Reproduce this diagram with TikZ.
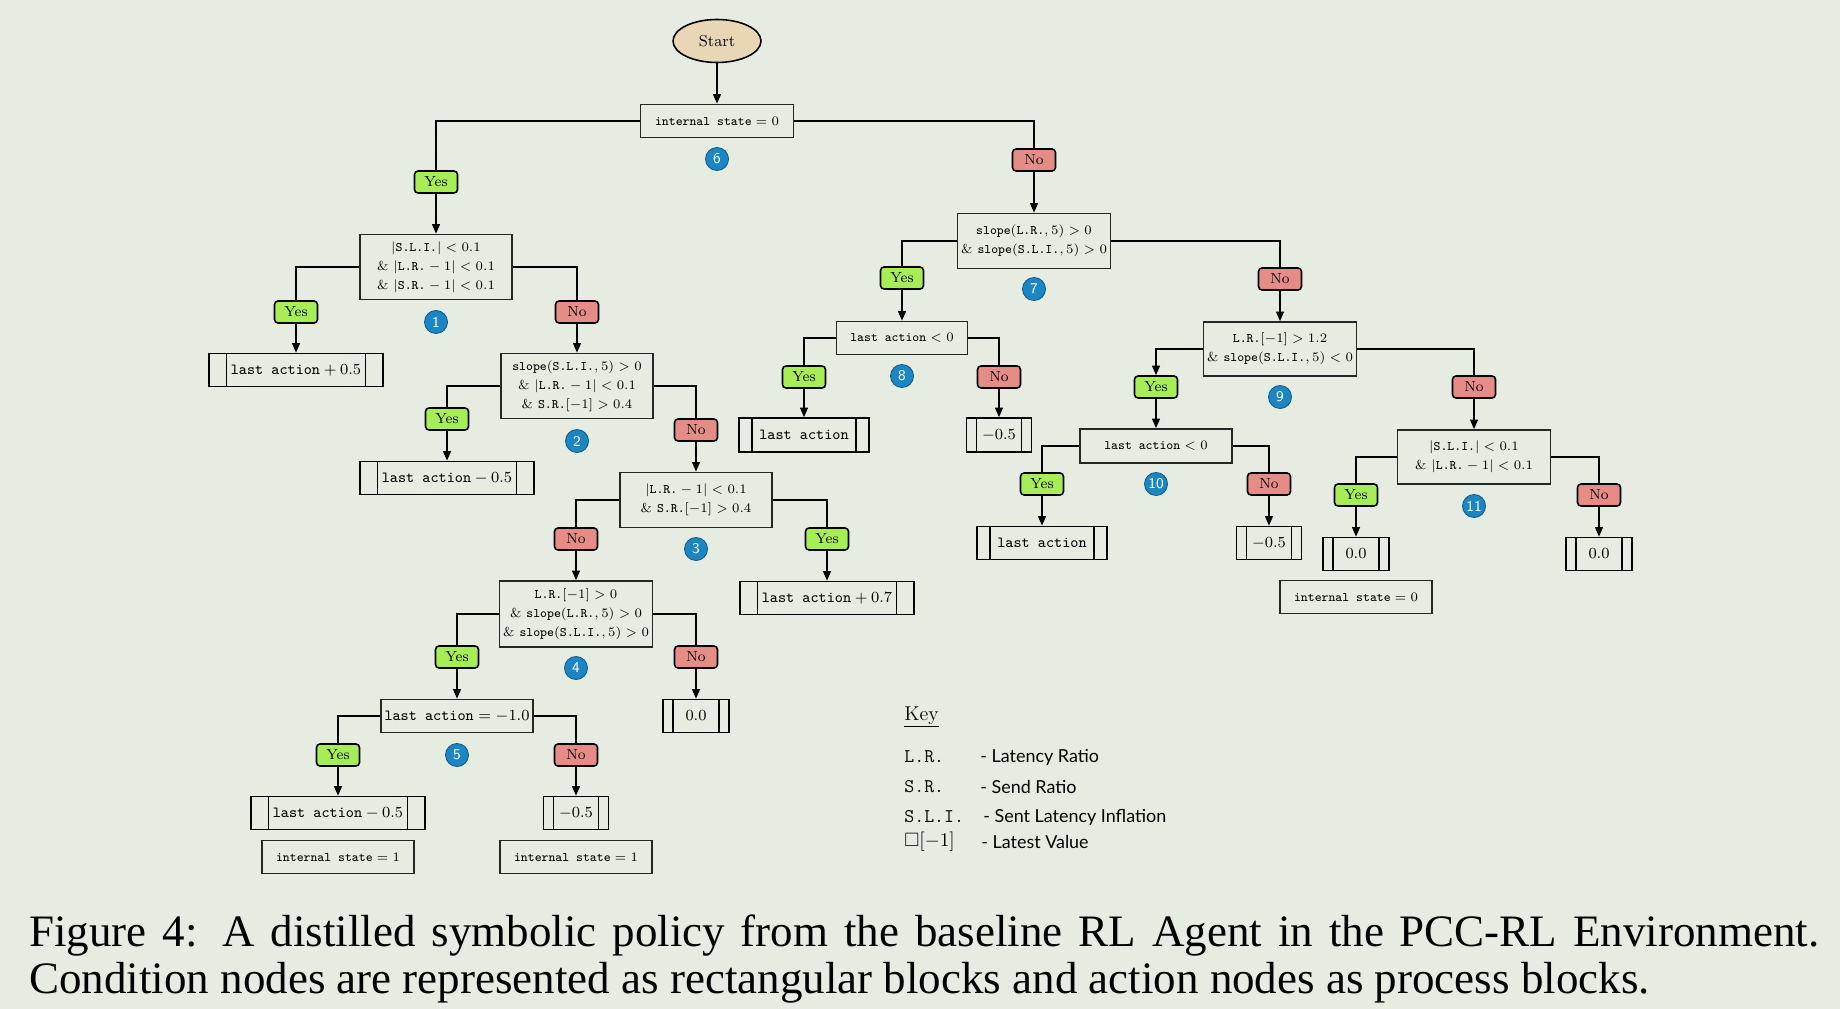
\documentclass[tikz,border=0pt]{standalone}
\usepackage{fix-cm}
\usepackage{amsmath,amssymb}
\usepackage{fontspec}
\usepackage{xcolor}
\newfontfamily\keyfont{Lato}
\newfontfamily\capfont{Liberation Serif}
\usetikzlibrary{
    arrows.meta,
    shapes.geometric
}

\definecolor{bgpaper}{RGB}{230,236,226}
\definecolor{startfill}{RGB}{232,214,181}
\definecolor{yesgreen}{RGB}{166,237,88}
\definecolor{nored}{RGB}{230,140,134}
\definecolor{ballblue}{RGB}{28,134,196}

\newcommand{\condfont}{\fontsize{7.4}{10.8}\selectfont}
\newcommand{\actfont}{\fontsize{8.8}{10.5}\selectfont}
\newcommand{\lblfont}{\fontsize{8.3}{9}\selectfont}
\newcommand{\vLR}{\texttt{L.R.}}
\newcommand{\vSR}{\texttt{S.R.}}
\newcommand{\vSLI}{\texttt{S.L.I.}}
\newcommand{\vSlope}{\texttt{slope}}
\newcommand{\vLast}{\texttt{last action}}
\newcommand{\vState}{\texttt{internal state}}

\begin{document}
\begin{tikzpicture}[
    x=0.2mm, y=-0.2mm,
    startnode/.style={
        ellipse,
        draw=black,
        line width=0.9pt,
        fill=startfill,
        minimum width=1.76cm,
        minimum height=0.86cm,
        font=\fontsize{9}{11}\selectfont
    },
    condbox/.style={
        rectangle,
        draw=black!85,
        line width=0.9pt,
        align=center,
        minimum width=3.04cm,
        minimum height=0.66cm,
        inner sep=2pt,
        font=\condfont
    },
    actbox/.style={
        rectangle,
        draw=black,
        line width=0.9pt,
        minimum width=3.48cm,
        minimum height=0.66cm,
        inner sep=0pt,
        font=\actfont,
        path picture={
            \draw[line width=0.9pt] ([xshift=#1]path picture bounding box.north west)
                -- ([xshift=#1]path picture bounding box.south west);
            \draw[line width=0.9pt] ([xshift=-#1]path picture bounding box.north east)
                -- ([xshift=-#1]path picture bounding box.south east);
        }
    },
    actbox/.default=0.35cm,
    yeslbl/.style={
        rectangle,
        rounded corners=2pt,
        draw=black,
        line width=0.9pt,
        fill=yesgreen,
        minimum width=0.86cm,
        minimum height=0.44cm,
        inner sep=0pt,
        font=\lblfont
    },
    nolbl/.style={
        yeslbl,
        fill=nored
    },
    numball/.style={
        circle,
        fill=ballblue,
        draw=ballblue!70!black,
        line width=0.5pt,
        minimum size=0.46cm,
        inner sep=0pt,
        text=white,
        font=\sffamily\fontsize{8.5}{9}\selectfont
    },
    arrow/.style={
        -{Triangle[length=5.5pt,width=4.5pt]},
        line width=0.9pt,
        draw=black
    },
    link/.style={
        line width=0.9pt,
        draw=black
    },
    keyname/.style={
        anchor=west,
        inner sep=0pt,
        font=\fontsize{11}{13}\selectfont
    },
    keytext/.style={
        anchor=west,
        inner sep=0pt,
        font=\keyfont\fontsize{10.2}{12}\selectfont
    }
]

\fill[bgpaper] (0,0) rectangle (1840,1009);
\useasboundingbox (0,0) rectangle (1840,1009);

% =========================================================
% Root
% =========================================================
\node[startnode] (start) at (717,41) {Start};

\node[condbox, minimum width=3.06cm] (c6) at (717,121)
{$\vState = 0$};
\node[numball] (n6) at (717,159) {6};

\node[yeslbl] (y6) at (436,182) {Yes};
\node[nolbl] (no6) at (1034,160) {No};

% =========================================================
% Left branch
% =========================================================
\node[condbox, minimum height=1.3cm] (c1) at (436,267)
{$|\vSLI| < 0.1$\\ $\&\ |\vLR - 1| < 0.1$\\ $\&\ |\vSR - 1| < 0.1$};
\node[numball] (n1) at (436,322) {1};

\node[yeslbl] (y1) at (296,312) {Yes};
\node[nolbl] (no1) at (577,312) {No};

\node[actbox] (a1) at (296,370) {$\vLast + 0.5$};

\node[condbox, minimum height=1.3cm] (c2) at (577,386)
{$\vSlope(\vSLI,5) > 0$\\ $\&\ |\vLR - 1| < 0.1$\\ $\&\ \vSR[-1] > 0.4$};
\node[numball] (n2) at (577,441) {2};

\node[yeslbl] (y2) at (447,419) {Yes};
\node[nolbl] (no2) at (696,430) {No};

\node[actbox] (a2) at (447,478) {$\vLast - 0.5$};

\node[condbox, minimum height=1.1cm] (c3) at (696,500)
{$|\vLR - 1| < 0.1$\\ $\&\ \vSR[-1] > 0.4$};
\node[numball] (n3) at (696,549) {3};

\node[nolbl] (no3) at (576,539) {No};
\node[yeslbl] (y3) at (827,539) {Yes};

\node[actbox] (a3) at (827,598) {$\vLast + 0.7$};

\node[condbox, minimum height=1.32cm] (c4) at (576,614)
{$\vLR[-1] > 0$\\ $\&\ \vSlope(\vLR,5) > 0$\\ $\&\ \vSlope(\vSLI,5) > 0$};
\node[numball] (n4) at (576,668) {4};

\node[yeslbl] (y4) at (457,657) {Yes};
\node[nolbl] (no4) at (696,657) {No};

\node[actbox=0.2cm, minimum width=1.32cm] (a4) at (696,716) {$0.0$};

\node[condbox, font=\actfont] (c5) at (457,716) {$\vLast = -1.0$};
\node[numball] (n5) at (457,755) {5};

\node[yeslbl] (y5) at (338,755) {Yes};
\node[nolbl] (no5) at (576,755) {No};

\node[actbox] (a5) at (338,813) {$\vLast - 0.5$};
\node[actbox=0.2cm, minimum width=1.3cm] (a5n) at (576,813) {$-0.5$};

\node[condbox] (s5) at (338,857) {$\vState = 1$};
\node[condbox] (s5n) at (576,857) {$\vState = 1$};

% =========================================================
% Right branch
% =========================================================
\node[condbox, minimum height=1.1cm] (c7) at (1034,241)
{$\vSlope(\vLR,5) > 0$\\ $\&\ \vSlope(\vSLI,5) > 0$};
\node[numball] (n7) at (1034,289) {7};

\node[yeslbl] (y7) at (902,278) {Yes};
\node[nolbl] (no7) at (1280,279) {No};

\node[condbox, minimum width=2.62cm] (c8) at (902,338) {$\vLast < 0$};
\node[numball] (n8) at (902,376) {8};

\node[yeslbl] (y8) at (804,377) {Yes};
\node[nolbl] (no8) at (999,377) {No};

\node[actbox=0.26cm, minimum width=2.6cm, minimum height=0.68cm] (a8) at (804,435) {$\vLast$};
\node[actbox=0.2cm, minimum width=1.3cm, minimum height=0.68cm] (a8n) at (999,435) {$-0.5$};

\node[condbox, minimum height=1.08cm] (c9) at (1280,349)
{$\vLR[-1] > 1.2$\\ $\&\ \vSlope(\vSLI,5) < 0$};
\node[numball] (n9) at (1280,397) {9};

\node[yeslbl] (y9) at (1156,387) {Yes};
\node[nolbl] (no9) at (1474,387) {No};

\node[condbox, minimum height=0.68cm] (c10) at (1156,446) {$\vLast < 0$};
\node[numball] (n10) at (1156,484) {10};

\node[yeslbl] (y10) at (1042,484) {Yes};
\node[nolbl] (no10) at (1269,484) {No};

\node[actbox=0.26cm, minimum width=2.6cm] (a10) at (1042,543) {$\vLast$};
\node[actbox=0.2cm, minimum width=1.3cm] (a10n) at (1269,543) {$-0.5$};

\node[condbox, minimum width=3.06cm, minimum height=1.08cm] (c11) at (1474,457)
{$|\vSLI| < 0.1$\\ $\&\ |\vLR - 1| < 0.1$};
\node[numball] (n11) at (1474,506) {11};

\node[yeslbl] (y11) at (1356,495) {Yes};
\node[nolbl] (no11) at (1599,495) {No};

\node[actbox=0.2cm, minimum width=1.32cm] (a11) at (1356,554) {$0.0$};
\node[actbox=0.2cm, minimum width=1.32cm] (a11n) at (1599,554) {$0.0$};

\node[condbox] (s11) at (1356,597) {$\vState = 0$};

% =========================================================
% Connectors
% =========================================================
\draw[arrow] (start) -- (c6);
\draw[link] (c6.west) -| (y6);
\draw[link] (c6.east) -| (no6);
\draw[arrow] (y6) -- (c1);
\draw[arrow] (no6) -- (c7);

\draw[link] (c1.west) -| (y1);
\draw[link] (c1.east) -| (no1);
\draw[arrow] (y1) -- (a1);
\draw[arrow] (no1) -- (c2);

\draw[link] (c2.west) -| (y2);
\draw[link] (c2.east) -| (no2);
\draw[arrow] (y2) -- (a2);
\draw[arrow] (no2) -- (c3);

\draw[link] (c3.west) -| (no3);
\draw[link] (c3.east) -| (y3);
\draw[arrow] (no3) -- (c4);
\draw[arrow] (y3) -- (a3);

\draw[link] (c4.west) -| (y4);
\draw[link] (c4.east) -| (no4);
\draw[arrow] (y4) -- (c5);
\draw[arrow] (no4) -- (a4);

\draw[link] (c5.west) -| (y5);
\draw[link] (c5.east) -| (no5);
\draw[arrow] (y5) -- (a5);
\draw[arrow] (no5) -- (a5n);

\draw[link] (c7.west) -| (y7);
\draw[link] (c7.east) -| (no7);
\draw[arrow] (y7) -- (c8);
\draw[arrow] (no7) -- (c9);

\draw[link] (c8.west) -| (y8);
\draw[link] (c8.east) -| (no8);
\draw[arrow] (y8) -- (a8);
\draw[arrow] (no8) -- (a8n);

\draw[arrow] (c9.west) -| (y9);
\draw[link] (c9.east) -| (no9);
\draw[arrow] (y9) -- (c10);
\draw[arrow] (no9) -- (c11);

\draw[link] (c10.west) -| (y10);
\draw[link] (c10.east) -| (no10);
\draw[arrow] (y10) -- (a10);
\draw[arrow] (no10) -- (a10n);

\draw[link] (c11.west) -| (y11);
\draw[link] (c11.east) -| (no11);
\draw[arrow] (y11) -- (a11);
\draw[arrow] (no11) -- (a11n);

% =========================================================
% Key
% =========================================================
\node[anchor=base west, inner sep=0pt, font=\fontsize{11.4}{13}\selectfont] (keyhead) at (904,720) {\underline{Key}};

\node[keyname] (kLR) at (904,757) {\vLR};
\node[keyname] (kSR) at (904,787) {\vSR};
\node[keyname] (kSLI) at (904,817) {\vSLI};
\node[keyname] (kLast) at (904,842) {$\square[-1]$};

\node[keytext] (tLR) at (980,757) {- Latency Ratio};
\node[keytext] (tSR) at (980,787) {- Send Ratio};
\node[keytext] (tSLI) at (983,817) {- Sent Latency Inflation};
\node[keytext] (tLast) at (981,842) {- Latest Value};

% =========================================================
% Caption
% =========================================================
\node[anchor=base west, inner sep=0pt, font=\capfont\fontsize{25.6}{30}\selectfont] (cap1) at (29,946)
{\makebox[35.8cm][s]{Figure 4: A distilled symbolic policy from the baseline RL Agent in the PCC-RL Environment.}};
\node[anchor=base west, inner sep=0pt, font=\capfont\fontsize{25.6}{30}\selectfont] (cap2) at (29,993)
{Condition nodes are represented as rectangular blocks and action nodes as process blocks.};

\end{tikzpicture}
\end{document}
